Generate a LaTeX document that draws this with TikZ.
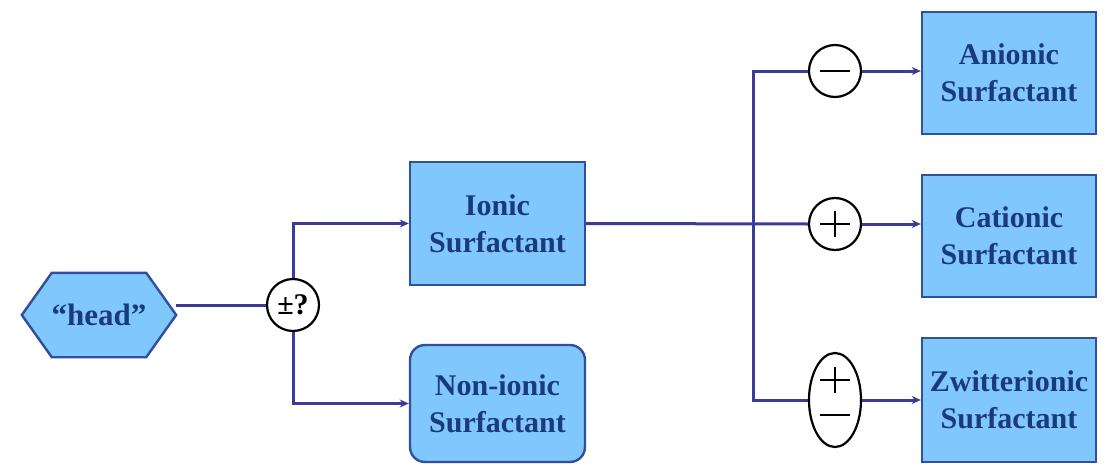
\documentclass[tikz,border=0pt]{standalone}
\usepackage{fontspec}
\setmainfont{Liberation Serif}
\usetikzlibrary{arrows.meta,shapes.geometric,backgrounds,calc}
\definecolor{boxfill}{HTML}{80C8FC}
\definecolor{boxline}{HTML}{2F4F9F}
\definecolor{boxtext}{HTML}{1B3A7A}
\definecolor{conn}{HTML}{3C3C96}
\tikzset{
  surf/.style={draw=boxline, line width=2.4pt, fill=boxfill, text=boxtext,
    font=\bfseries\fontsize{30}{37}\selectfont, align=center,
    minimum width=175pt, minimum height=123pt, inner sep=0pt},
  sign/.style={circle, draw=black, line width=2.2pt, fill=white,
    minimum size=52pt, inner sep=0pt},
  zsign/.style={ellipse, draw=black, line width=2.2pt, fill=white,
    minimum width=52pt, minimum height=94pt, inner sep=0pt},
  connline/.style={draw=conn, line width=3pt},
  arr/.style={connline, -{Stealth[length=9pt,width=8pt]}},
  signmark/.style={draw=black, line width=2pt},
}
\begin{document}
\begin{tikzpicture}[x=1pt,y=-1pt]
\useasboundingbox (0,0) rectangle (1112,466);
% head hexagon
\node[minimum width=154pt, minimum height=84pt, inner sep=0pt, text=boxtext,
  font=\bfseries\fontsize{31}{36}\selectfont] (head) at (99,315) {“head”};
\begin{scope}[on background layer]
\fill[white] (0,0) rectangle (1112,466);
\draw[draw=boxline, line width=2.4pt, fill=boxfill]
  (head.west) -- ($(head.north west)+(30,0)$) -- ($(head.north east)+(-30,0)$)
  -- (head.east) -- ($(head.south east)+(-30,0)$) -- ($(head.south west)+(30,0)$) -- cycle;
\end{scope}
% question circle
\node[sign, font=\bfseries\fontsize{30}{34}\selectfont] (q) at (293,305) {±?};
% boxes
\node[surf] (ion) at (497.5,223.5) {Ionic\\Surfactant};
\node[surf, rounded corners=15pt, minimum height=117pt] (non) at (497.5,403.5) {Non-ionic\\Surfactant};
\node[surf, minimum width=174pt, minimum height=122pt] (an) at (1009,73) {Anionic\\Surfactant};
\node[surf, minimum width=174pt, minimum height=122pt] (cat) at (1009,236) {Cationic\\Surfactant};
\node[surf, minimum width=174pt, minimum height=124pt] (zw) at (1009,400) {Zwitterionic\\Surfactant};
% sign circles
\node[sign] (mc) at (835,71) {};
\node[sign] (pc) at (835,224) {};
\node[zsign] (zc) at (835,400) {};
\draw[signmark] ($(mc.center)+(-15,0)$) -- ($(mc.center)+(15,0)$);
\draw[signmark] ($(pc.center)+(-15,0)$) -- ($(pc.center)+(15,0)$);
\draw[signmark] ($(pc.center)+(0,-13)$) -- ($(pc.center)+(0,13)$);
\draw[signmark] ($(zc.center)+(-15,-20)$) -- ($(zc.center)+(15,-20)$);
\draw[signmark] ($(zc.center)+(0,-33)$) -- ($(zc.center)+(0,-7)$);
\draw[signmark] ($(zc.center)+(-15,15)$) -- ($(zc.center)+(15,15)$);
% connectors
\coordinate (bus) at (753,224);
\draw[connline] (q.west) -- (q.west -| head.east);
\draw[arr] (q.north) |- (ion.west);
\draw[arr] (q.south) |- (non.west);
\draw[connline] (ion.east) -- (pc.west);
\draw[connline] (mc.west) -| (bus) |- (zc.west);
\draw[arr] (mc.east) -- (mc.east -| an.west);
\draw[arr] (pc.east) -- (pc.east -| cat.west);
\draw[arr] (zc.east) -- (zc.east -| zw.west);
\end{tikzpicture}
\end{document}
